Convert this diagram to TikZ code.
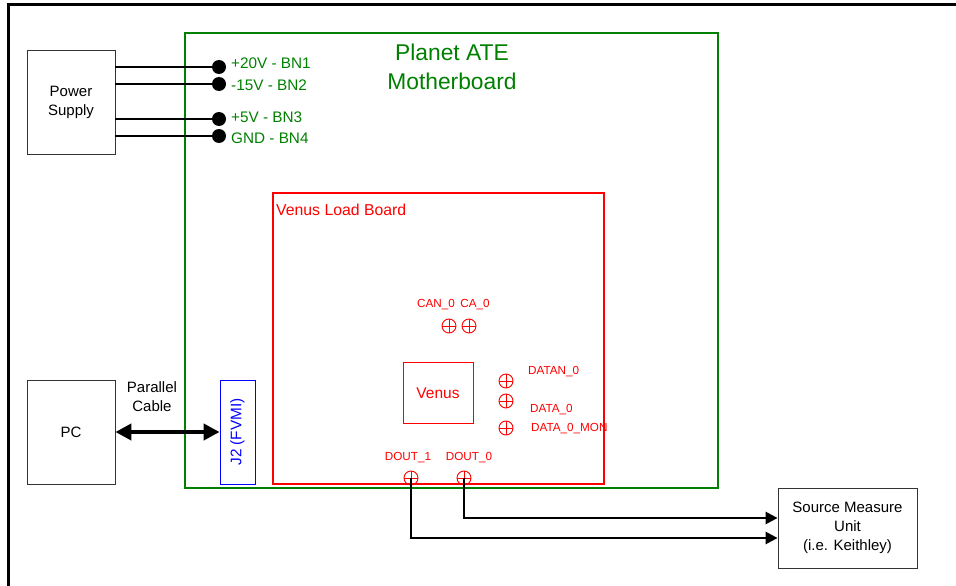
\documentclass[tikz,border=0pt]{standalone}
\usepackage{fontspec}
\setmainfont{Liberation Sans}
\usetikzlibrary{arrows.meta}
\definecolor{mbgreen}{RGB}{0,128,0}
\begin{document}
\begin{tikzpicture}[x=1pt,y=-1pt,
  box/.style={draw=black!80, line width=0.8pt, align=center, font=\fontsize{15}{17}\selectfont, inner sep=0pt},
  wire/.style={line width=2.5pt, black},
  dot/.style={circle, fill=black, minimum size=14pt, inner sep=0pt},
  glab/.style={text=mbgreen, anchor=west, inner sep=0pt, font=\fontsize{15.3}{17}\selectfont},
  rlab/.style={text=red, inner sep=0pt, font=\fontsize{11.7}{13}\selectfont},
  tp/.style={circle, draw=red, line width=0.9pt, minimum size=14pt, inner sep=0pt,
    path picture={\draw[red, line width=0.9pt] (path picture bounding box.north) -- (path picture bounding box.south)
      (path picture bounding box.west) -- (path picture bounding box.east);}},
  arr/.style={-{Triangle[length=12pt,width=12pt]}}
]
\useasboundingbox (0,0) rectangle (956,586);
% frame
\draw[line width=3pt] (8,586) -- (8,5) -- (956,5);

% motherboard
\draw[mbgreen, line width=2.3pt] (185,33) rectangle (718,488);
\node[text=mbgreen, align=center, font=\fontsize{22.8}{29}\selectfont] (title) at (452,67) {Planet ATE\\Motherboard};

% power supply
\node[box, minimum width=88pt, minimum height=104pt, font=\fontsize{15}{19}\selectfont] (ps) at (71,102) {Power\\Supply};
\node[dot] (d1) at (219,67) {};
\node[dot] (d2) at (219,84) {};
\node[dot] (d3) at (219,119) {};
\node[dot] (d4) at (219,136) {};
\coordinate (p1) at (115,67);
\coordinate (p2) at (115,84);
\coordinate (p3) at (115,119);
\coordinate (p4) at (115,136);
\draw[wire] (p1) -- (d1.center);
\draw[wire] (p2) -- (d2.center);
\draw[wire] (p3) -- (d3.center);
\draw[wire] (p4) -- (d4.center);
\node[glab] (l1) at (231,63) {+20V - BN1};
\node[glab] (l2) at (231,85) {-15V - BN2};
\node[glab] (l3) at (231,117) {+5V - BN3};
\node[glab] (l4) at (231,138) {GND - BN4};

% venus load board
\draw[red, line width=2.3pt] (273,193) rectangle (604,484);
\node[rlab, anchor=west, font=\fontsize{15.8}{17}\selectfont] (vlb) at (276,210) {Venus Load Board};
\node[draw=red, line width=0.8pt, minimum width=70pt, minimum height=61pt, text=red, font=\fontsize{15.5}{17}\selectfont, inner sep=0pt] (venus) at (438,393) {Venus};

\node[rlab] (canl) at (436,305) {CAN\_0};
\node[rlab] (cal) at (475,305) {CA\_0};
\node[tp] (can) at (449,326) {};
\node[tp] (ca) at (469,326) {};

\node[tp] (datan) at (506,381) {};
\node[tp] (data) at (506,401) {};
\node[tp] (datamon) at (506,428) {};
\node[rlab, anchor=west] (datanl) at (528,372) {DATAN\_0};
\node[rlab, anchor=west] (datal) at (530,410) {DATA\_0};
\node[rlab, anchor=west] (datamonl) at (531,429) {DATA\_0\_MON};

\node[rlab] (d1l) at (408,458) {DOUT\_1};
\node[rlab] (d0l) at (469,458) {DOUT\_0};
\node[tp] (dout1) at (411,478) {};
\node[tp] (dout0) at (464,478) {};

% SMU
\node[box, minimum width=139pt, minimum height=80pt, font=\fontsize{15}{19}\selectfont] (smu) at (847.5,528) {Source Measure\\Unit\\(i.e. Keithley)};
\draw[wire, arr] (dout0.center) |- (smu.west |- 0,518);
\draw[wire, arr] (dout1.center) |- (smu.west |- 0,538);

% PC and J2
\node[box, minimum width=88pt, minimum height=104pt] (pc) at (71,432) {PC};
\node[draw=blue, line width=0.8pt, minimum width=35pt, minimum height=104pt, inner sep=0pt] (j2) at (237.5,432) {};
\node[text=blue, rotate=90, font=\fontsize{15.3}{17}\selectfont, inner sep=0pt] (j2t) at (j2.center) {J2 (FVMI)};
\draw[line width=4pt, {Triangle[length=16pt,width=16pt]}-{Triangle[length=16pt,width=16pt]}] (pc.east) -- (j2.west);
\node[align=center, font=\fontsize{15}{19}\selectfont] (cable) at (152,397) {Parallel\\Cable};
\end{tikzpicture}
\end{document}
